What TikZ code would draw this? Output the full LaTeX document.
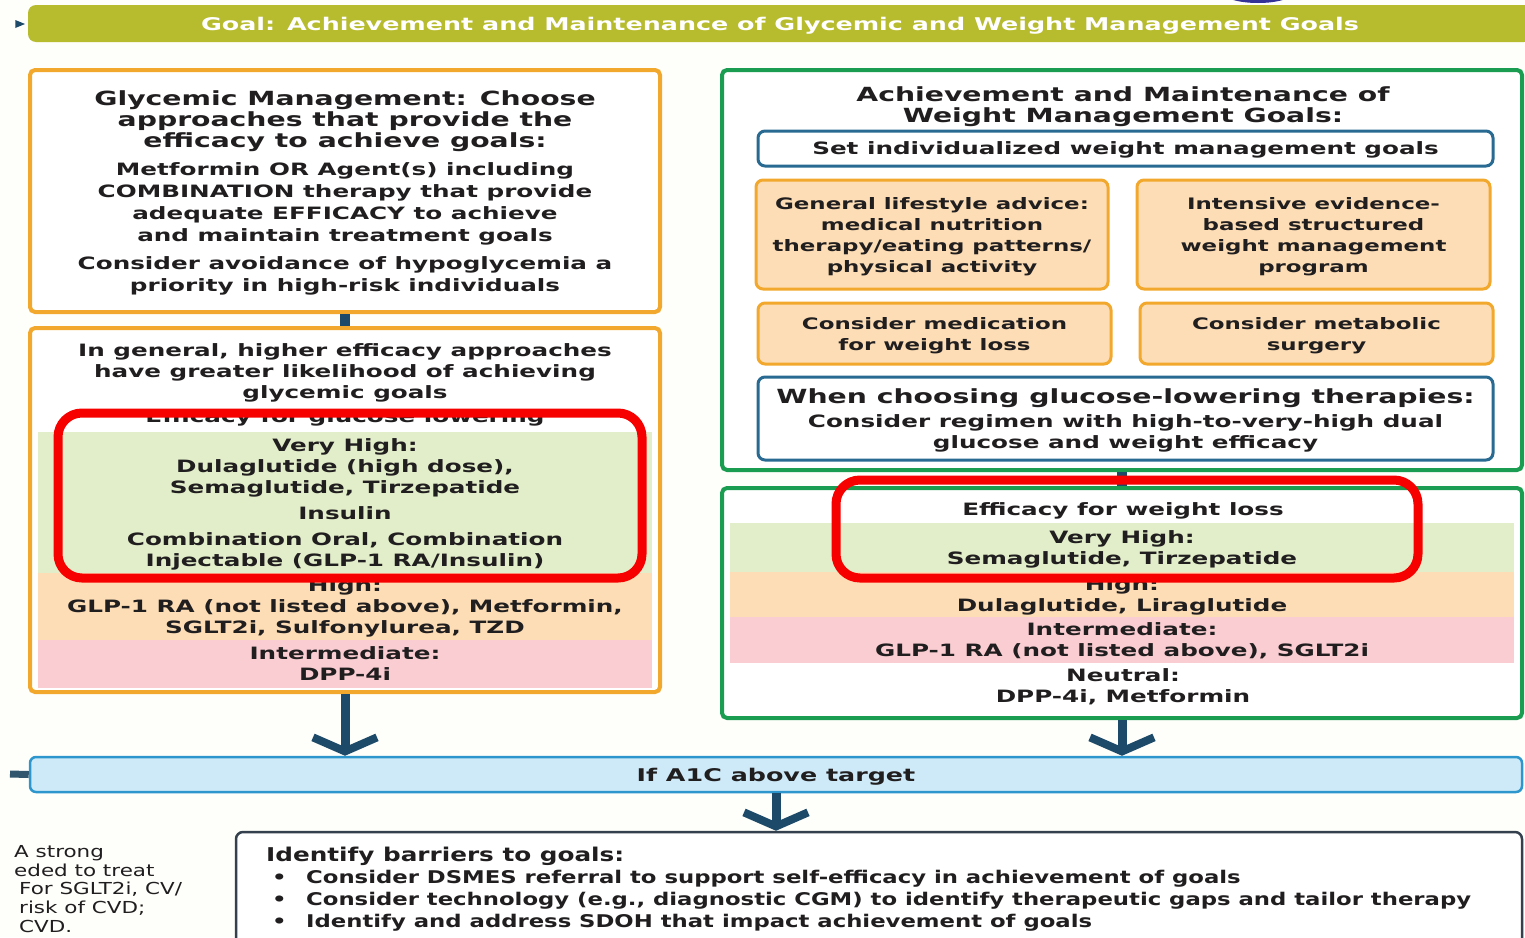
\documentclass[tikz,border=0pt]{standalone}
\usepackage{fontspec}
\setmainfont{DejaVu Sans}[FakeStretch=1.45]
\newfontfamily\condfont{DejaVu Sans}[FakeStretch=1.3]
\usepackage{tikz}
\usetikzlibrary{arrows.meta}
\usetikzlibrary{shapes.geometric}
\definecolor{paper}{RGB}{254,254,250}
\definecolor{ink}{RGB}{33,30,31}
\definecolor{olivebar}{RGB}{183,187,46}
\definecolor{orangeln}{RGB}{242,168,44}
\definecolor{peach}{RGB}{252,221,182}
\definecolor{vhigh}{RGB}{226,237,201}
\definecolor{pinkband}{RGB}{249,205,210}
\definecolor{greenln}{RGB}{26,157,80}
\definecolor{blueln}{RGB}{40,106,145}
\definecolor{navy}{RGB}{29,74,104}
\definecolor{skyfill}{RGB}{206,234,248}
\definecolor{skyln}{RGB}{45,150,205}
\definecolor{slate}{RGB}{52,64,78}
\definecolor{hlred}{RGB}{246,0,0}
\definecolor{sealblue}{RGB}{52,50,150}
\newcommand\hdfont{\bfseries\fontsize{19.5}{22}\selectfont}
\newcommand\bdfont{\bfseries\fontsize{17}{21}\selectfont}

\begin{document}
\begin{tikzpicture}[x=1pt,y=-1pt,
    >={Straight Barb[length=14pt,width=64pt,line width=8pt]},
    txt/.style={align=center,text=ink,font=\bdfont,inner sep=0pt,text depth=0pt},
    obox/.style={draw=orangeln,line width=4pt,rounded corners=5pt,fill=white},
    gbox/.style={draw=greenln,line width=4pt,rounded corners=5pt,fill=white},
    bbox/.style={draw=blueln,line width=3pt,rounded corners=7pt,fill=white,txt},
    pbox/.style={draw=orangeln,line width=3pt,rounded corners=7pt,fill=peach,txt,font=\bfseries\fontsize{15.8}{21}\selectfont},
    band/.style={txt,minimum width=614},
    wband/.style={txt,minimum width=784},
    hl/.style={draw=hlred,line width=9pt,rounded corners=24pt,inner sep=0pt},
    stem/.style={navy,line width=10pt},
    conn/.style={->,navy,line width=9pt}]
  \useasboundingbox (0,0) rectangle (1525,937);
  \clip (0,0) rectangle (1525,937);
  \fill[paper] (0,0) rectangle (1525,937);

  \node[ellipse,fill=sealblue,minimum width=72,minimum height=22] at (1258,-8) (seal) {};
  \node[isosceles triangle,fill=navy,minimum width=8,minimum height=9,inner sep=0pt] at (18,24) (tri) {};
  \node[fill=olivebar,rounded corners=8pt,minimum width=1504,minimum height=37,inner sep=0pt,text depth=0pt,text=white,font=\bfseries\fontsize{17.5}{20}\selectfont] at (780,23.5) (goal) {Goal: Achievement and Maintenance of Glycemic and Weight Management Goals};

  % glycemic side
  \node[obox,txt,minimum width=630,minimum height=242] at (345,191) (ltop) {\hdfont Glycemic Management: Choose\\\hdfont approaches that provide the\\\hdfont efficacy to achieve goals:\\[7pt]
    Metformin OR Agent(s) including\\[1pt]COMBINATION therapy that provide\\[1pt]adequate EFFICACY to achieve\\[1pt]and maintain treatment goals\\[7pt]
    Consider avoidance of hypoglycemia a\\[1pt]priority in high-risk individuals};
  \node[obox,minimum width=630,minimum height=364] at (345,510) (lbot) {};
  \node[txt] at (345,371) (lgen) {In general, higher efficacy approaches\\have greater likelihood of achieving\\glycemic goals};
  \node[txt] at (345,416) (lgeff) {Efficacy for glucose lowering};
  \node[band,fill=vhigh,minimum height=141] at (345,502.5) (lvh) {Very High:\\Dulaglutide (high dose),\\Semaglutide, Tirzepatide\\[5pt]Insulin\\[5pt]Combination Oral, Combination\\Injectable (GLP-1 RA/Insulin)};
  \node[band,fill=peach,minimum height=67] at (345,606.5) (lhigh) {High:\\GLP-1 RA (not listed above), Metformin,\\SGLT2i, Sulfonylurea, TZD};
  \node[band,fill=pinkband,minimum height=48] at (345,664) (lint) {Intermediate:\\DPP-4i};

  % weight side
  \node[gbox,minimum width=800,minimum height=400] at (1122,270) (rtop) {};
  \node[txt] at (1123,104.5) (wtitle) {\hdfont Achievement and Maintenance of\\\hdfont Weight Management Goals:};
  \node[bbox,minimum width=735,minimum height=35] at (1125.5,148.5) (setg) {Set individualized weight management goals};
  \node[pbox,minimum width=352,minimum height=109] at (932,234.5) (life) {General lifestyle advice:\\medical nutrition\\therapy/eating patterns/\\physical activity};
  \node[pbox,minimum width=353,minimum height=109] at (1313.5,234.5) (prog) {Intensive evidence-\\based structured\\weight management\\program};
  \node[pbox,minimum width=353,minimum height=61] at (934.5,333.5) (meds) {Consider medication\\for weight loss};
  \node[pbox,minimum width=353,minimum height=61] at (1316.5,333.5) (surg) {Consider metabolic\\surgery};
  \node[bbox,minimum width=735,minimum height=83] at (1125.5,418.5) (when) {\hdfont When choosing glucose-lowering therapies:\\[3pt]Consider regimen with high-to-very-high dual\\glucose and weight efficacy};
  \node[gbox,minimum width=800,minimum height=230] at (1122,603) (rbot) {};
  \node[txt] at (1123,509) (reff) {Efficacy for weight loss};
  \node[wband,fill=vhigh,minimum height=49] at (1122,547.5) (rvh) {Very High:\\Semaglutide, Tirzepatide};
  \node[wband,fill=peach,minimum height=45] at (1122,594.5) (rhigh) {High:\\Dulaglutide, Liraglutide};
  \node[wband,fill=pinkband,minimum height=46] at (1122,640) (rint) {Intermediate:\\GLP-1 RA (not listed above), SGLT2i};
  \node[txt] at (1123,686) (rneu) {Neutral:\\DPP-4i, Metformin};

  % bottom
  \node[draw=skyln,fill=skyfill,line width=2.5pt,rounded corners=6pt,minimum width=1492,minimum height=35,txt,font=\bfseries\fontsize{17.5}{20}\selectfont] at (776,774.5) (a1c) {If A1C above target};
  \coordinate (lstub) at (10,774);
  \node[draw=slate,line width=2.5pt,rounded corners=7pt,fill=white,minimum width=1286,minimum height=128] at (879,896) (barr) {};
  \node[anchor=north west,align=left,text=ink,inner sep=0pt,font=\condfont\bfseries\fontsize{17.5}{22}\selectfont] at (266,847) (barrtxt) {\fontsize{19}{22}\selectfont Identify barriers to goals:\\
    \hspace*{6pt}\makebox[34pt][l]{\textbullet}Consider DSMES referral to support self-efficacy in achievement of goals\\
    \hspace*{6pt}\makebox[34pt][l]{\textbullet}Consider technology (e.g., diagnostic CGM) to identify therapeutic gaps and tailor therapy\\
    \hspace*{6pt}\makebox[34pt][l]{\textbullet}Identify and address SDOH that impact achievement of goals};
  \node[anchor=north west,align=left,text=ink,inner sep=0pt,font=\condfont\fontsize{16.5}{18.8}\selectfont] at (14,845) (side) {A strong\\eded to treat\\\hspace*{5pt}For SGLT2i, CV/\\\hspace*{5pt}risk of CVD;\\\hspace*{5pt}CVD.};

  \draw[stem] (ltop) -- (lbot);
  \draw[stem] (rtop) -- (rbot);
  \draw[conn] (lbot.south) -- (lbot.south |- a1c.north);
  \draw[conn] (rbot.south) -- (rbot.south |- a1c.north);
  \draw[conn] (a1c.south) -- (a1c.south |- barr.north);
  \draw[navy!80!gray,line width=7pt] (lstub) -- (a1c.west);

  \node[hl,minimum width=584,minimum height=165] at (350,495.5) (hlgly) {};
  \node[hl,minimum width=582,minimum height=98] at (1127,529) (hlwt) {};
\end{tikzpicture}
\end{document}
